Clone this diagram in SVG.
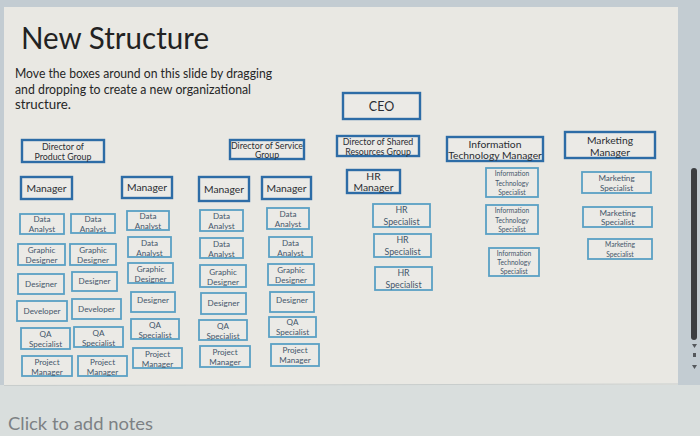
<svg xmlns="http://www.w3.org/2000/svg" width="700" height="436" viewBox="0 0 700 436">
<style>
.big rect{fill:#ebeae6;stroke:#2d6ca6;stroke-width:2.4}
.small rect{fill:#ebeae6;stroke:#5aa0c4;stroke-width:1.8}
text{font-family:Lato,"Liberation Sans",sans-serif}
.big text{fill:#2a2d33;text-anchor:middle}
.small text{fill:#44566a;text-anchor:middle}
.f12{font-size:12.5px}
.f10{font-size:10.3px}
.f9{font-size:8.8px}
.f8{font-size:8.1px}
.f7{font-size:6.7px}
</style>
<rect x="0" y="0" width="700" height="436" fill="#c3ccd2"/>
<rect x="0" y="385" width="700" height="51" fill="#d9dedd"/>
<rect x="4" y="7" width="674" height="378" fill="#e9e8e3"/>
<line x1="4" y1="385.5" x2="678" y2="384" stroke="#c8cdcc" stroke-width="1"/>
<rect x="691" y="168" width="6" height="172" rx="3" fill="#3b3d40"/>
<path d="M692,344 L697,344 L694.5,348 Z M693,353 L696,353 L696,357 L693,357 Z M692,365 L697,365 L694.5,369 Z" fill="#55585c" stroke="none"/>

<text x="21" y="49" font-size="30" fill="#222" textLength="188" lengthAdjust="spacingAndGlyphs">New Structure</text>
<text x="15" y="78" font-size="12.8" fill="#262626" textLength="257" lengthAdjust="spacingAndGlyphs">Move the boxes around on this slide by dragging</text>
<text x="15" y="94" font-size="12.8" fill="#262626" textLength="236" lengthAdjust="spacingAndGlyphs">and dropping to create a new organizational</text>
<text x="15" y="109" font-size="12.8" fill="#262626" textLength="56" lengthAdjust="spacingAndGlyphs">structure.</text>
<text x="8" y="430" font-size="17" fill="#7d8184" textLength="145" lengthAdjust="spacingAndGlyphs">Click to add notes</text>

<g id="connectors"/>

<g id="ceo" class="big"><rect x="343" y="93" width="77" height="26"/><text x="381.5" y="110.5" class="f12">CEO</text></g>
<g id="dir-product" class="big"><rect x="22" y="140" width="82" height="22"/><text x="63" y="149.5" class="f9">Director of</text><text x="63" y="159.5" class="f9">Product Group</text></g>
<g id="dir-service" class="big"><rect x="230" y="140" width="74" height="19"/><text x="267" y="148.5" class="f9">Director of Service</text><text x="267" y="158" class="f9">Group</text></g>
<g id="dir-shared" class="big"><rect x="337" y="136" width="82" height="20"/><text x="378" y="145" class="f9">Director of Shared</text><text x="378" y="155" class="f9">Resources Group</text></g>
<g id="it-manager" class="big"><rect x="447" y="137" width="96" height="24"/><text x="495" y="147.5" class="f10">Information</text><text x="495" y="159" class="f10">Technology Manager</text></g>
<g id="mkt-manager" class="big"><rect x="565" y="132" width="90" height="26"/><text x="610" y="143.5" class="f10">Marketing</text><text x="610" y="155.5" class="f10">Manager</text></g>

<g id="manager-1" class="big"><rect x="21" y="177" width="51" height="22"/><text x="46.5" y="191.5" class="f10">Manager</text></g>
<g id="manager-2" class="big"><rect x="122" y="177" width="50" height="21"/><text x="147" y="191" class="f10">Manager</text></g>
<g id="manager-3" class="big"><rect x="199" y="177" width="50" height="24"/><text x="224" y="192.5" class="f10">Manager</text></g>
<g id="manager-4" class="big"><rect x="262" y="177" width="49" height="22"/><text x="286.5" y="191.5" class="f10">Manager</text></g>
<g id="hr-manager" class="big"><rect x="347" y="170" width="53" height="23"/><text x="373.5" y="180" class="f10">HR</text><text x="373.5" y="191" class="f10">Manager</text></g>

<g id="c1-data-analyst" class="small"><rect x="20" y="214" width="44" height="20"/><text x="42" y="222" class="f8">Data</text><text x="42" y="232" class="f8">Analyst</text></g>
<g id="c1-graphic-designer" class="small"><rect x="18" y="244" width="47" height="21"/><text x="41.5" y="253" class="f8">Graphic</text><text x="41.5" y="263" class="f8">Designer</text></g>
<g id="c1-designer" class="small"><rect x="18" y="274" width="46" height="20"/><text x="41" y="286.5" class="f8">Designer</text></g>
<g id="c1-developer" class="small"><rect x="17" y="301" width="50" height="20"/><text x="42" y="313.5" class="f8">Developer</text></g>
<g id="c1-qa" class="small"><rect x="21" y="328" width="49" height="21"/><text x="45.5" y="337" class="f8">QA</text><text x="45.5" y="347" class="f8">Specialist</text></g>
<g id="c1-pm" class="small"><rect x="22" y="356" width="50" height="20"/><text x="47" y="364.5" class="f8">Project</text><text x="47" y="374.5" class="f8">Manager</text></g>

<g id="c2-data-analyst" class="small"><rect x="71" y="214" width="44" height="19"/><text x="93" y="222" class="f8">Data</text><text x="93" y="231.5" class="f8">Analyst</text></g>
<g id="c2-graphic-designer" class="small"><rect x="70" y="244" width="46" height="21"/><text x="93" y="253" class="f8">Graphic</text><text x="93" y="263" class="f8">Designer</text></g>
<g id="c2-designer" class="small"><rect x="72" y="272" width="45" height="19"/><text x="94.5" y="284" class="f8">Designer</text></g>
<g id="c2-developer" class="small"><rect x="72" y="299" width="49" height="20"/><text x="96.5" y="311.5" class="f8">Developer</text></g>
<g id="c2-qa" class="small"><rect x="74" y="327" width="49" height="20"/><text x="98.5" y="335.5" class="f8">QA</text><text x="98.5" y="345.5" class="f8">Specialist</text></g>
<g id="c2-pm" class="small"><rect x="78" y="356" width="49" height="20"/><text x="102.5" y="364.5" class="f8">Project</text><text x="102.5" y="374.5" class="f8">Manager</text></g>

<g id="c3-data-analyst-1" class="small"><rect x="127" y="211" width="42" height="19"/><text x="148" y="219" class="f8">Data</text><text x="148" y="228.5" class="f8">Analyst</text></g>
<g id="c3-data-analyst-2" class="small"><rect x="128" y="237" width="43" height="20"/><text x="149.5" y="245.5" class="f8">Data</text><text x="149.5" y="255.5" class="f8">Analyst</text></g>
<g id="c3-graphic-designer" class="small"><rect x="128" y="263" width="45" height="20"/><text x="150.5" y="271.5" class="f8">Graphic</text><text x="150.5" y="281.5" class="f8">Designer</text></g>
<g id="c3-designer" class="small"><rect x="131" y="292" width="44" height="20"/><text x="153" y="303" class="f8">Designer</text></g>
<g id="c3-qa" class="small"><rect x="131" y="319" width="48" height="20"/><text x="155" y="327.5" class="f8">QA</text><text x="155" y="337.5" class="f8">Specialist</text></g>
<g id="c3-pm" class="small"><rect x="133" y="348" width="49" height="20"/><text x="157.5" y="356.5" class="f8">Project</text><text x="157.5" y="366.5" class="f8">Manager</text></g>

<g id="c4-data-analyst-1" class="small"><rect x="200" y="210" width="43" height="21"/><text x="221.5" y="219" class="f8">Data</text><text x="221.5" y="229" class="f8">Analyst</text></g>
<g id="c4-data-analyst-2" class="small"><rect x="200" y="238" width="43" height="20"/><text x="221.5" y="246.5" class="f8">Data</text><text x="221.5" y="256.5" class="f8">Analyst</text></g>
<g id="c4-graphic-designer" class="small"><rect x="200" y="265" width="46" height="22"/><text x="223" y="274.5" class="f8">Graphic</text><text x="223" y="285" class="f8">Designer</text></g>
<g id="c4-designer" class="small"><rect x="201" y="293" width="45" height="21"/><text x="223.5" y="305.5" class="f8">Designer</text></g>
<g id="c4-qa" class="small"><rect x="199" y="320" width="48" height="20"/><text x="223" y="328.5" class="f8">QA</text><text x="223" y="338.5" class="f8">Specialist</text></g>
<g id="c4-pm" class="small"><rect x="200" y="346" width="50" height="21"/><text x="225" y="355" class="f8">Project</text><text x="225" y="365" class="f8">Manager</text></g>

<g id="c5-data-analyst-1" class="small"><rect x="267" y="208" width="42" height="21"/><text x="288" y="216.5" class="f8">Data</text><text x="288" y="227" class="f8">Analyst</text></g>
<g id="c5-data-analyst-2" class="small"><rect x="269" y="237" width="43" height="20"/><text x="290.5" y="245.5" class="f8">Data</text><text x="290.5" y="255.5" class="f8">Analyst</text></g>
<g id="c5-graphic-designer" class="small"><rect x="268" y="264" width="46" height="21"/><text x="291" y="272.5" class="f8">Graphic</text><text x="291" y="283" class="f8">Designer</text></g>
<g id="c5-designer" class="small"><rect x="270" y="292" width="44" height="20"/><text x="292" y="303" class="f8">Designer</text></g>
<g id="c5-qa" class="small"><rect x="269" y="317" width="47" height="20"/><text x="292.5" y="325" class="f8">QA</text><text x="292.5" y="335" class="f8">Specialist</text></g>
<g id="c5-pm" class="small"><rect x="271" y="344" width="48" height="22"/><text x="295" y="352.5" class="f8">Project</text><text x="295" y="363" class="f8">Manager</text></g>

<g id="hr-specialist-1" class="small"><rect x="373" y="204" width="57" height="23"/><text x="401.5" y="213" class="f9">HR</text><text x="401.5" y="225" class="f9">Specialist</text></g>
<g id="hr-specialist-2" class="small"><rect x="374" y="234" width="57" height="23"/><text x="402.5" y="243" class="f9">HR</text><text x="402.5" y="255" class="f9">Specialist</text></g>
<g id="hr-specialist-3" class="small"><rect x="375" y="267" width="57" height="23"/><text x="403.5" y="276" class="f9">HR</text><text x="403.5" y="288" class="f9">Specialist</text></g>

<g id="it-specialist-1" class="small"><rect x="486" y="168" width="52" height="29"/><text x="512" y="176" class="f7">Information</text><text x="512" y="185.5" class="f7">Technology</text><text x="512" y="195" class="f7">Specialist</text></g>
<g id="it-specialist-2" class="small"><rect x="486" y="205" width="52" height="29"/><text x="512" y="213" class="f7">Information</text><text x="512" y="222.5" class="f7">Technology</text><text x="512" y="232" class="f7">Specialist</text></g>
<g id="it-specialist-3" class="small"><rect x="489" y="248" width="50" height="28"/><text x="514" y="256" class="f7">Information</text><text x="514" y="265" class="f7">Technology</text><text x="514" y="274" class="f7">Specialist</text></g>

<g id="mkt-specialist-1" class="small"><rect x="582" y="172" width="69" height="21"/><text x="616.5" y="180.5" class="f8">Marketing</text><text x="616.5" y="190.5" class="f8">Specialist</text></g>
<g id="mkt-specialist-2" class="small"><rect x="583" y="207" width="69" height="20"/><text x="617.5" y="215.5" class="f8">Marketing</text><text x="617.5" y="225" class="f8">Specialist</text></g>
<g id="mkt-specialist-3" class="small"><rect x="588" y="239" width="64" height="20"/><text x="620" y="247" class="f7">Marketing</text><text x="620" y="256.5" class="f7">Specialist</text></g>
</svg>
